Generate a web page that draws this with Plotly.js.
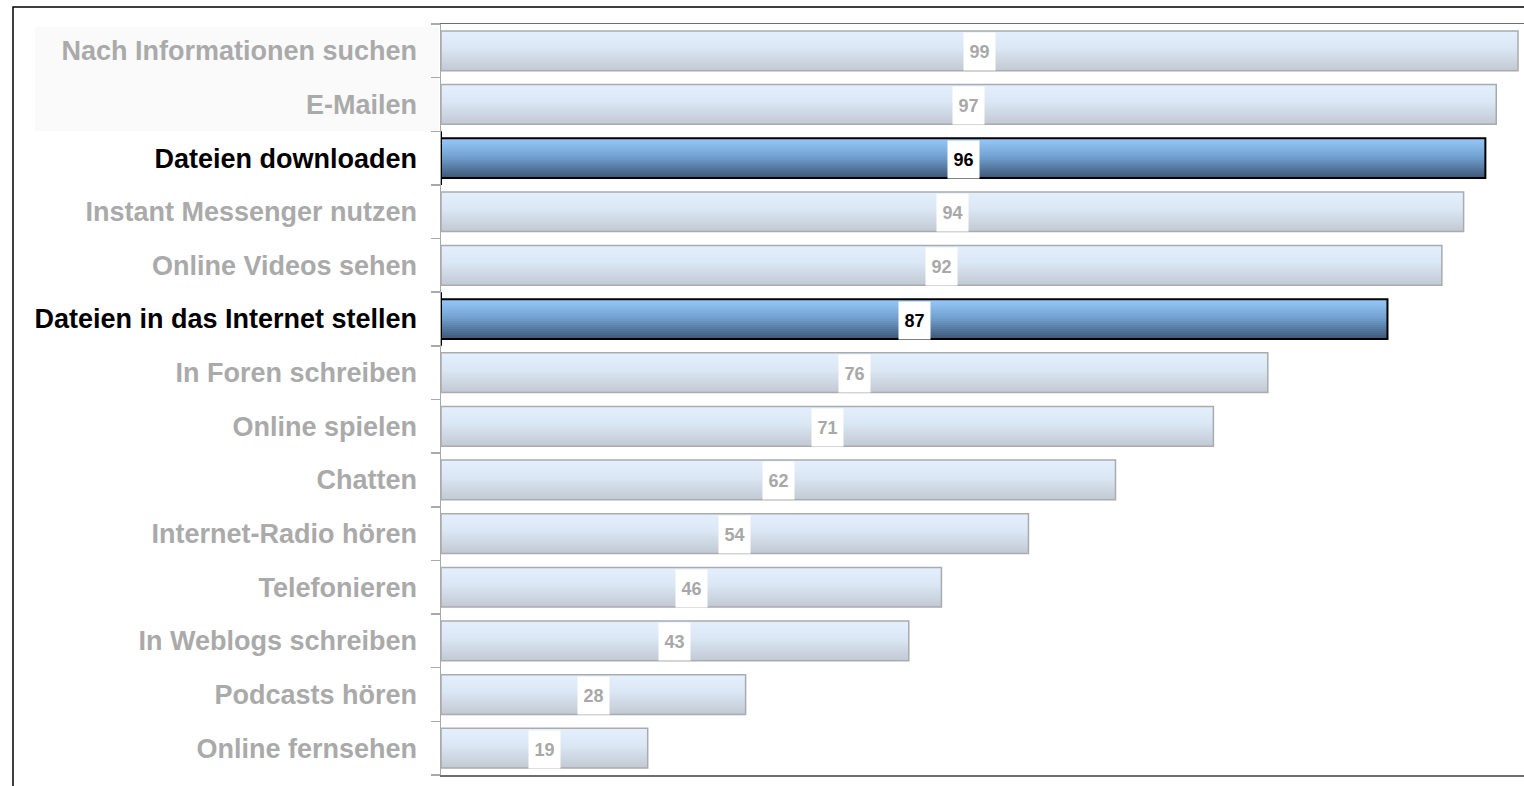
<!DOCTYPE html>
<html>
<head>
<meta charset="utf-8">
<script src="https://cdn.plot.ly/plotly-3.0.1.min.js"></script>
<style>html,body{margin:0;padding:0;background:#fff;}#chart{width:1524px;height:786px;}</style>
</head>
<body>
<div id="chart"></div>
<script>
// ---- data ----
const categories = [
  "Nach Informationen suchen",
  "E-Mailen",
  "Dateien downloaden",
  "Instant Messenger nutzen",
  "Online Videos sehen",
  "Dateien in das Internet stellen",
  "In Foren schreiben",
  "Online spielen",
  "Chatten",
  "Internet-Radio hören",
  "Telefonieren",
  "In Weblogs schreiben",
  "Podcasts hören",
  "Online fernsehen"
];
const values = [99, 97, 96, 94, 92, 87, 76, 71, 62, 54, 46, 43, 28, 19];
const highlighted = [false, false, true, false, false, true, false, false, false, false, false, false, false, false];

// ---- styling helpers ----
function hex2rgb(h){return [parseInt(h.slice(1,3),16),parseInt(h.slice(3,5),16),parseInt(h.slice(5,7),16)];}
function mix(stops, t){
  for(let s=0;s<stops.length-1;s++){
    const [p0,c0]=stops[s],[p1,c1]=stops[s+1];
    if(t>=p0 && t<=p1){
      const u=(t-p0)/(p1-p0), a=hex2rgb(c0), b=hex2rgb(c1);
      return 'rgb('+a.map((v,i)=>Math.round(v+(b[i]-v)*u)).join(',')+')';
    }
  }
  return stops[stops.length-1][1];
}
const normalStops = [[0,'#e4f0fc'],[0.45,'#dae6f3'],[1,'#c2c9d3']];
const hiStops = [[0,'#96c9fa'],[0.45,'#74a3d2'],[1,'#3c5676']];

const BAR_W = 0.74;
const NB = 20;
const bw = BAR_W / NB;
const traces = [];
for(let k=0;k<NB;k++){
  const t = (k+0.5)/NB;
  traces.push({
    type:'bar', orientation:'h',
    y: categories, x: values,
    width: (k<NB-1)? bw*2 : bw,
    offset: -BAR_W/2 + k*bw,
    marker:{
      color: highlighted.map(h => h ? mix(hiStops,t) : mix(normalStops,t)),
      line:{width:0}
    },
    hoverinfo:'skip', showlegend:false
  });
}
// outline
traces.push({
  type:'bar', orientation:'h',
  y: categories, x: values,
  width: BAR_W, offset: -BAR_W/2,
  marker:{
    color:'rgba(0,0,0,0)',
    line:{color: highlighted.map(h => h ? '#000000' : '#a9abae'), width: highlighted.map(h => h ? 2 : 1.5)}
  },
  hoverinfo:'skip', showlegend:false
});

const ticktext = categories.map((c,i)=> highlighted[i] ? '<span style="color:#000000">'+c+'</span>' : c);

const annotations = values.map((v,i)=>({
  x: v/2, y: categories[i], xref:'x', yref:'y',
  text: String(v), showarrow:false,
  font:{family:'Liberation Sans, Arial, sans-serif', size:18, weight:'bold', color: highlighted[i] ? '#000000' : '#a8a8a8'},
  bgcolor:'#ffffff', width:29, height:35, borderpad:1, yshift:-1
}));

const shapes = [
  // outer frame
  {type:'rect', xref:'paper', yref:'paper', x0:-0.3952, x1:1.2, y0:-0.2, y1:1.0226,
   line:{color:'#000', width:1.5}, fillcolor:'rgba(0,0,0,0)'},
  // faint label background band
  {type:'rect', xref:'paper', yref:'y', x0:-0.375, x1:-0.002, y0:-0.45, y1:1.5,
   line:{width:0}, fillcolor:'#fafafa', layer:'below'}
];
highlighted.forEach((h,i)=>{
  if(!h) return;
  shapes.push({type:'line', xref:'x', yref:'y', x0:0, x1:0, y0:i-0.5, y1:i+0.5, line:{color:'#000', width:2}});
  [i-0.5, i+0.5].forEach(yy=>{
    shapes.push({type:'line', xref:'x', xsizemode:'pixel', xanchor:0, x0:-9, x1:0, yref:'y', y0:yy, y1:yy, line:{color:'#000', width:2}});
  });
});

const layout = {
  width:1524, height:786,
  margin:{l:441, r:0, t:24, b:11, pad:0},
  paper_bgcolor:'#ffffff', plot_bgcolor:'#ffffff',
  barmode:'overlay',
  showlegend:false,
  xaxis:{
    range:[0, 99.55], showgrid:false, zeroline:false,
    showticklabels:false, ticks:'',
    showline:true, linecolor:'#6e6e6e', linewidth:1.5, mirror:true
  },
  yaxis:{
    type:'category', categoryorder:'array', categoryarray:categories,
    autorange:'reversed',
    tickmode:'array', tickvals:categories, ticktext:ticktext,
    tickson:'boundaries', ticks:'outside', ticklen:9, tickcolor:'#a9a9a9', tickwidth:1.5,
    ticklabelstandoff:17,
    tickfont:{family:'Liberation Sans, Arial, sans-serif', size:27, weight:'bold', color:'#aaaaaa'},
    showline:true, linecolor:'#a9a9a9', linewidth:1.5,
    showgrid:false, zeroline:false
  },
  annotations: annotations,
  shapes: shapes
};

Plotly.newPlot('chart', traces, layout, {staticPlot:true, displayModeBar:false});
</script>
</body>
</html>
